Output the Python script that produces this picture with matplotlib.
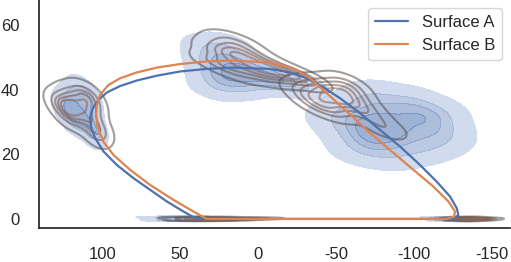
import numpy as np
import matplotlib
matplotlib.use("Agg")
import matplotlib.pyplot as plt
from matplotlib.colors import LinearSegmentedColormap
import seaborn as sns

# loop curves (x, y)
surf_a_x = [39.3, -125.2, -128.4, -127.4, -123.1, -114.6, -103.8, -91.0, -78.2, -65.4,
            -52.6, -41.9, -31.2, -20.5, -7.7, 5.1, 15.8, 32.9, 50.0, 64.9,
            77.8, 88.5, 97.0, 102.4, 106.0, 107.7, 107.2, 104.5, 99.2, 90.6,
            79.9, 69.2, 58.5, 47.9, 39.3]
surf_a_y = [0, 0, 1.2, 3.3, 6.9, 11.5, 16.7, 22.4, 27.5, 32.7,
            37.3, 40.7, 43.5, 45.3, 46.4, 46.6, 46.8, 46.4, 45.6, 44.3,
            42.8, 41.1, 39.1, 36.8, 34.2, 31.6, 28.5, 25.0, 20.9, 16.7,
            12.6, 9.0, 5.4, 2.3, 0]
surf_b_x = [32.9, -121.0, -125.6, -126.3, -122.0, -112.4, -99.6, -84.6, -69.7, -56.9,
            -44.0, -33.3, -22.6, -9.8, 5.1, 15.8, 32.9, 50.0, 64.9, 77.8,
            88.5, 96.0, 101.3, 103.4, 103.8, 103.0, 99.2, 92.8, 82.1, 69.2,
            54.3, 41.5, 32.9]
surf_b_y = [0, 0, 0.7, 2.3, 5.4, 10.0, 15.2, 21.3, 27.5, 33.2,
            38.9, 43.5, 46.6, 48.2, 48.7, 49.0, 48.7, 47.9, 46.8, 45.3,
            43.5, 41.4, 38.4, 35.3, 32.2, 28.5, 23.9, 19.8, 15.2, 10.5,
            5.9, 2.3, 0]

# sample points behind the filled density clusters
fill_left_x = [122, 107, 115, 115, 120, 109, 120, 109, 115, 104, 125, 106]
fill_left_y = [35, 35, 40, 30, 38, 38, 31, 31, 34, 28, 35, 26]
fill_top_x = [30, 27, 32, 25, 22, 18, 14, 10, 6, 2, -2, -8, -14, -20, -28, 28, 20, 12]
fill_top_y = [49, 44, 53, 47, 43, 50, 45, 48, 43, 46, 44, 43, 44, 42, 41, 40, 54, 41]
fill_right_x = [-50, -60, -70, -75, -80, -90, -100, -110, -120, -65, -85, -95, -105, -115, -72, -78]
fill_right_y = [32, 28, 34, 25, 30, 27, 33, 29, 25, 22, 20, 36, 22, 32, 38, 28]
fill_bl_x = [62, 58, 54, 50, 46, 42, 38, 34, 28, 22, 16]
fill_bl_y = [0.5, -0.4, 0.1, -0.5, 0.4, 0.0, -0.3, 0.5, -0.4, 0.1, 0.0]
fill_br_x = [-114, -118, -122, -126, -130, -134]
fill_br_y = [0.4, -0.4, 0.1, -0.3, 0.4, -0.1]

# sample points behind the contour-line clusters
line_left_x = [124, 106, 115, 115, 122, 108, 122, 108, 115, 102, 128, 104]
line_left_y = [35, 35, 39, 31, 38, 38, 32, 32, 35, 28, 36, 26]
line_top_x = [24, 20, 16, 22, 14, 26, 8, 2, -4, -10, -16, -24, -30, 12, 4, -6]
line_top_y = [52, 54, 51, 49, 55, 48, 49, 46, 48, 45, 46, 44, 43, 45, 51, 44]
line_mid_x = [-28, -36, -42, -48, -54, -60, -66, -40, -46, -52, -58, -34, -50, -56, -72, -82]
line_mid_y = [40, 41, 37, 39, 36, 38, 35, 35, 41, 37, 40, 37, 33, 42, 32, 28]
line_bl_x = [48, 44, 40, 37, 34, 31, 28, 25, 20, 14, 6, 0]
line_bl_y = [0.4, -0.3, 0.1, -0.4, 0.3, 0.0, -0.2, 0.4, -0.3, 0.1, 0.0, 0.2]
line_br_x = [-126, -129, -132, -135, -138, -141, -144, -148]
line_br_y = [0.3, -0.3, 0.1, -0.4, 0.4, 0.0, -0.2, 0.1]

xticks = [100, 50, 0, -50, -100, -150]
yticks = [0, 20, 40, 60]

sns.set_theme(style="white")
plt.rcParams['font.family'] = ['Liberation Sans', 'DejaVu Sans']
plt.rcParams['axes.unicode_minus'] = False

fig = plt.figure(figsize=(5.11, 2.62), dpi=100)
ax = fig.add_axes([0.0763, 0.1298, 0.9217, 0.8702])

blue = sns.color_palette()[0]
orange = sns.color_palette()[1]
fill_cmap = LinearSegmentedColormap.from_list('fillblue', [(0.78, 0.83, 0.92), blue])
line_cmap = LinearSegmentedColormap.from_list('greybrown', [(0.33, 0.31, 0.30), (0.60, 0.38, 0.30)])

for fx, fy in [(fill_left_x, fill_left_y), (fill_top_x, fill_top_y),
               (fill_right_x, fill_right_y), (fill_bl_x, fill_bl_y),
               (fill_br_x, fill_br_y)]:
    sns.kdeplot(x=fx, y=fy, fill=True, cmap=fill_cmap, alpha=0.6, levels=5, ax=ax)

for lx, ly in [(line_left_x, line_left_y), (line_top_x, line_top_y),
               (line_mid_x, line_mid_y), (line_bl_x, line_bl_y),
               (line_br_x, line_br_y)]:
    sns.kdeplot(x=lx, y=ly, cmap=line_cmap, alpha=0.55, levels=6,
                linewidths=1.5, ax=ax)

ax.plot(surf_a_x, surf_a_y, color=blue, lw=1.6, label='Surface A', zorder=3,
        solid_joinstyle='round')
ax.plot(surf_b_x, surf_b_y, color=orange, lw=1.6, label='Surface B', zorder=3,
        solid_joinstyle='round')

ax.set_xlim(140.5, -161.5)
ax.set_ylim(-2.8, 67.7)
ax.set_xticks(xticks)
ax.set_yticks(yticks)
ax.tick_params(axis='x', length=0, pad=14, labelsize=12)
ax.tick_params(axis='y', length=0, pad=14, labelsize=12)
ax.set_xlabel('')
ax.set_ylabel('')
sns.despine(ax=ax)
ax.legend(loc='upper right', fontsize=12)

fig.savefig('out.png', dpi=100)
